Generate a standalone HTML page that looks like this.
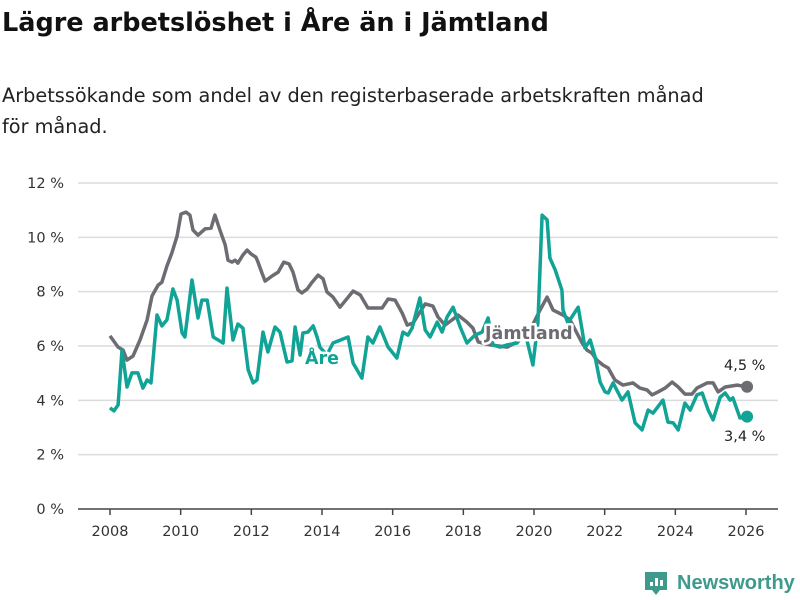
<!DOCTYPE html>
<html><head><meta charset="utf-8"><style>
body{margin:0;background:#fff;font-family:"DejaVu Sans","Liberation Sans",sans-serif;}
#wrap{position:relative;width:800px;height:600px;overflow:hidden;}
h1{position:absolute;left:2px;top:8px;margin:0;font-size:25.5px;font-weight:bold;color:#111;white-space:nowrap;}
p.sub{position:absolute;left:2px;top:80px;margin:0;font-size:19.3px;line-height:31px;color:#222;white-space:nowrap;}
</style></head><body>
<div id="wrap">
<h1>Lägre arbetslöshet i Åre än i Jämtland</h1>
<p class="sub">Arbetssökande som andel av den registerbaserade arbetskraften månad<br>för månad.</p>
<svg id="chart" width="800" height="600" style="position:absolute;left:0;top:0"></svg>
</div>
<script>
const yTicks=[0,2,4,6,8,10,12];
const yTickLabels=["0 %","2 %","4 %","6 %","8 %","10 %","12 %"];
const xTicks=[2008,2010,2012,2014,2016,2018,2020,2022,2024,2026];
const jamtDates=[2008.00,2008.23,2008.37,2008.48,2008.65,2008.85,2009.05,2009.19,2009.36,2009.47,2009.61,2009.75,2009.90,2010.01,2010.15,2010.26,2010.35,2010.49,2010.69,2010.86,2010.97,2011.11,2011.26,2011.34,2011.45,2011.54,2011.62,2011.76,2011.88,2011.99,2012.13,2012.19,2012.30,2012.39,2012.59,2012.76,2012.92,2013.07,2013.18,2013.32,2013.43,2013.58,2013.72,2013.89,2014.03,2014.14,2014.31,2014.51,2014.88,2015.08,2015.30,2015.70,2015.87,2016.07,2016.27,2016.41,2016.58,2016.72,2016.92,2017.14,2017.28,2017.48,2017.71,2017.85,2018.10,2018.27,2018.42,2018.76,2019.24,2019.52,2019.89,2020.17,2020.37,2020.54,2020.82,2021.02,2021.36,2021.50,2021.64,2021.78,2021.95,2022.10,2022.29,2022.52,2022.80,2023.00,2023.20,2023.34,2023.51,2023.71,2023.91,2024.08,2024.27,2024.47,2024.61,2024.90,2025.07,2025.21,2025.41,2025.75,2026.03];
const jamtValues=[6.37,5.96,5.85,5.48,5.63,6.22,6.96,7.84,8.24,8.35,8.94,9.42,10.05,10.86,10.93,10.82,10.27,10.08,10.31,10.34,10.82,10.27,9.72,9.16,9.09,9.16,9.05,9.35,9.53,9.39,9.27,9.09,8.69,8.39,8.58,8.72,9.09,9.02,8.72,8.06,7.95,8.10,8.35,8.61,8.47,7.99,7.80,7.43,8.02,7.88,7.40,7.40,7.73,7.69,7.21,6.77,6.85,7.14,7.55,7.47,7.07,6.77,6.99,7.14,6.88,6.66,6.15,6.04,5.96,6.15,6.59,7.32,7.80,7.32,7.14,6.96,6.11,5.85,5.74,5.48,5.30,5.19,4.75,4.56,4.64,4.45,4.38,4.20,4.31,4.45,4.67,4.49,4.23,4.23,4.45,4.64,4.64,4.31,4.49,4.56,4.5];
const areDates=[2008.00,2008.11,2008.23,2008.34,2008.48,2008.62,2008.79,2008.93,2009.05,2009.16,2009.33,2009.47,2009.61,2009.78,2009.90,2010.04,2010.12,2010.32,2010.49,2010.60,2010.75,2010.92,2011.20,2011.31,2011.48,2011.62,2011.76,2011.91,2012.05,2012.16,2012.33,2012.47,2012.67,2012.81,2013.01,2013.15,2013.24,2013.38,2013.46,2013.60,2013.75,2013.86,2013.94,2014.14,2014.31,2014.74,2014.88,2015.13,2015.30,2015.44,2015.64,2015.87,2016.12,2016.29,2016.43,2016.55,2016.77,2016.92,2017.06,2017.26,2017.40,2017.54,2017.71,2017.91,2018.10,2018.33,2018.53,2018.70,2018.84,2019.04,2019.24,2019.52,2019.75,2019.97,2020.11,2020.23,2020.37,2020.45,2020.60,2020.79,2020.82,2020.96,2021.25,2021.36,2021.44,2021.59,2021.73,2021.87,2022.01,2022.10,2022.24,2022.49,2022.66,2022.86,2023.06,2023.23,2023.37,2023.65,2023.79,2023.94,2024.08,2024.27,2024.42,2024.61,2024.76,2024.93,2025.07,2025.27,2025.41,2025.55,2025.63,2025.83,2026.03];
const areValues=[3.72,3.61,3.83,5.85,4.49,5.01,5.01,4.45,4.75,4.64,7.14,6.74,6.96,8.10,7.69,6.48,6.33,8.43,7.03,7.69,7.69,6.33,6.11,8.13,6.22,6.81,6.66,5.12,4.64,4.75,6.51,5.78,6.70,6.51,5.41,5.45,6.70,5.67,6.48,6.51,6.74,6.33,5.96,5.67,6.11,6.33,5.37,4.82,6.33,6.11,6.70,5.96,5.56,6.51,6.40,6.66,7.77,6.59,6.33,6.88,6.51,7.07,7.43,6.70,6.11,6.40,6.51,7.03,6.04,5.96,6.04,6.11,6.48,5.30,6.85,10.82,10.64,9.24,8.80,8.06,7.32,6.85,7.43,6.59,5.93,6.22,5.59,4.67,4.31,4.27,4.64,4.01,4.31,3.17,2.91,3.64,3.53,4.01,3.20,3.17,2.91,3.90,3.64,4.20,4.27,3.64,3.28,4.12,4.27,4.01,4.09,3.35,3.4];
const endLabels=["4,5 %","3,4 %"];

const NS="http://www.w3.org/2000/svg";
const svg=document.getElementById('chart');
const X0=110,X1=746,Y0=509,Y12=183;
const FONT='DejaVu Sans, Liberation Sans, sans-serif';
function xs(d){return X0+(d-2008)*(X1-X0)/18;}
function ys(v){return Y0-v*(Y0-Y12)/12;}
function mk(tag,attrs){const e=document.createElementNS(NS,tag);for(const k in attrs)e.setAttribute(k,attrs[k]);svg.appendChild(e);return e;}
yTicks.forEach((t,i)=>{
  if(t>0){const g=mk('line',{x1:78,x2:778,y1:ys(t),y2:ys(t),stroke:'#dcdcdc','stroke-width':1.5});
  
  }
  const tx=mk('text',{x:64,y:ys(t)+5,'text-anchor':'end','font-size':14.5,fill:'#333','font-family':FONT});
  tx.textContent=yTickLabels[i];
  
  
});
const ax=mk('line',{x1:78,x2:778,y1:Y0,y2:Y0,stroke:'#444','stroke-width':1.5});


xTicks.forEach(t=>{
  const tk=mk('line',{x1:xs(t),x2:xs(t),y1:Y0,y2:Y0+6,stroke:'#444','stroke-width':1.5});
  
  
  const tx=mk('text',{x:xs(t),y:536,'text-anchor':'middle','font-size':14.5,fill:'#333','font-family':FONT});
  tx.textContent=String(t);
  
  
});
function path(ds,vs){return ds.map((d,i)=>(i?'L':'M')+xs(d).toFixed(1)+','+ys(vs[i]).toFixed(1)).join('');}
const lj=mk('path',{d:path(jamtDates,jamtValues),fill:'none',stroke:'#6d6c72','stroke-width':3.5,'stroke-linejoin':'round'});


const la=mk('path',{d:path(areDates,areValues),fill:'none',stroke:'#10a396','stroke-width':3.5,'stroke-linejoin':'round'});


const dj=mk('circle',{cx:xs(jamtDates[jamtDates.length-1]),cy:ys(jamtValues[jamtValues.length-1]),r:6,fill:'#6d6c72'});


const da=mk('circle',{cx:xs(areDates[areDates.length-1]),cy:ys(areValues[areValues.length-1]),r:6,fill:'#10a396'});


function lbl(txt,x,y,col,name,bold,size){
  const t=mk('text',{x:x,y:y,'font-size':size,fill:col,'font-weight':bold?'bold':'normal','font-family':FONT,stroke:'#fff','stroke-width':bold?5:0,'paint-order':'stroke','stroke-linejoin':'round'});
  t.textContent=txt;
  
  
}
lbl('Jämtland',485,339,'#6d6c72','jamtland-label',true,17.5);
lbl('Åre',305,364,'#10a396','are-label',true,17.5);
lbl(endLabels[0],724,370,'#222','jamtland-end-label',false,14.5);
lbl(endLabels[1],724,441,'#222','are-end-label',false,14.5);
const lg=mk('path',{d:'M645,572 h22 v18 h-7 l-4,5 l-4,-5 h-7 z',fill:'#3d9a8d'});


[[650,582,4],[655,578,8],[660,580,6]].forEach(b=>{const r=mk('rect',{x:b[0],y:b[1],width:3,height:b[2],fill:'#fff'});

});
const lt=mk('text',{x:677,y:589,'font-size':20,'font-weight':'bold',fill:'#3d9a8d','font-family':'Liberation Sans, sans-serif'});
lt.textContent='Newsworthy';


</script>
</body></html>
